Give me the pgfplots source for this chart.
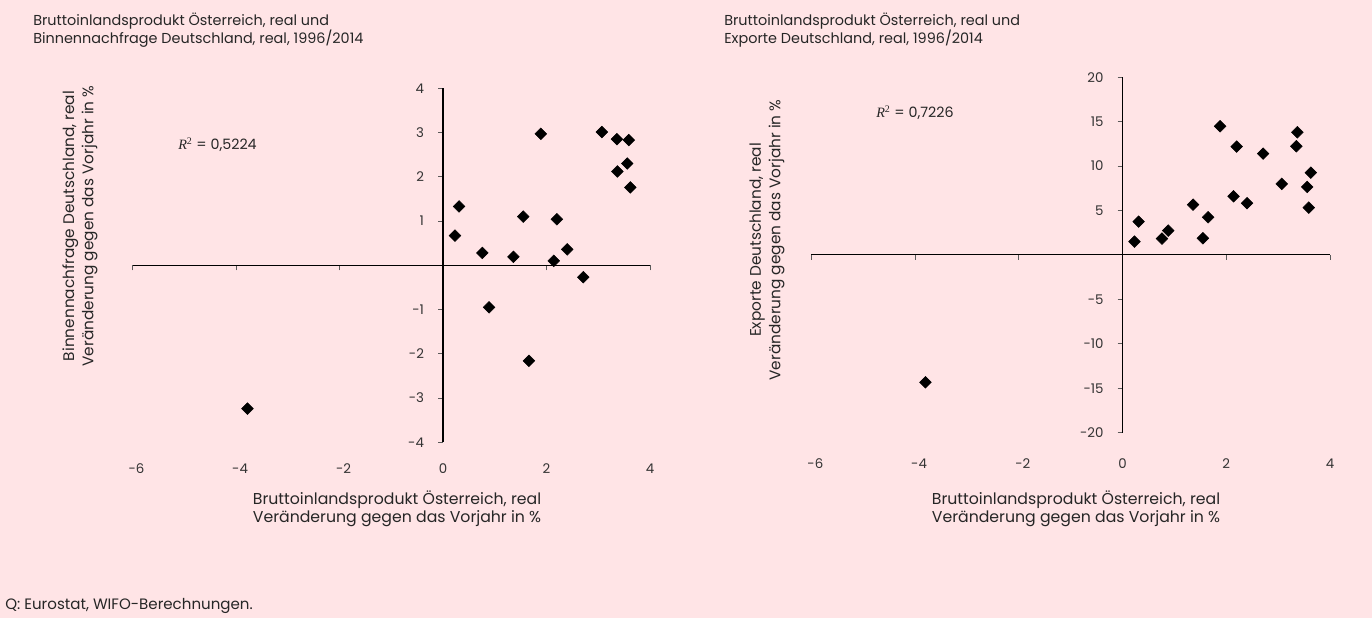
\documentclass[border=0pt]{standalone}
\usepackage{pgfplots}
\pgfplotsset{compat=1.18}
\usepackage{fontspec}
\setmainfont{Poppins}
\newfontfamily\rfont{Liberation Serif}
\definecolor{bg}{RGB}{255,228,230}
\definecolor{tickgray}{RGB}{90,90,90}

\pgfplotstableread{
x y
0.23 0.67
0.31 1.33
0.76 0.28
1.36 0.19
1.55 1.10
1.89 2.97
2.14 0.10
2.20 1.04
2.40 0.36
2.71 -0.27
3.07 3.01
3.36 2.85
3.59 2.83
3.37 2.12
3.56 2.30
3.62 1.76
0.89 -0.95
1.66 -2.16
-3.78 -3.24
}\leftdata

\pgfplotstableread{
x y
0.23 1.50
0.31 3.75
0.76 1.84
0.88 2.74
1.36 5.66
1.55 1.88
1.65 4.24
1.88 14.48
2.14 6.60
2.20 12.19
2.40 5.82
2.71 11.40
3.07 7.99
3.37 13.80
3.35 12.23
3.63 9.26
3.56 7.65
3.59 5.32
-3.80 -14.33
}\rightdata

\tikzset{xl/.style={font=\fontsize{10}{12}\selectfont, text=black!80}}
\pgfplotsset{
  myaxis/.style={
    scale only axis,
    anchor=south west,
    axis lines=middle,
    every inner x axis line/.append style={-},
    every inner y axis line/.append style={-},
    axis line style={black, line width=0.8pt},
    tick align=outside,
    major tick length=3.75pt,
    every tick/.style={tickgray, line width=0.6pt},
    xticklabels={},
    tick label style={font=\fontsize{10}{12}\selectfont, text=black!80},
    yticklabel style={anchor=east, xshift=-7pt},
    clip=false,
  },
}

\begin{document}
\begin{tikzpicture}
\path[use as bounding box, fill=bg] (0,0) rectangle (1029pt,463.5pt);

% left axis
\begin{axis}[myaxis,
  at={(99.4pt,131.8pt)}, width=388.1pt, height=265.5pt,
  xmin=-6, xmax=4, ymin=-4, ymax=4,
  xtick={-6,-4,-2,0,2,4},
  ytick={-4,-3,-2,-1,0,1,2,3,4},
  yticklabels={-4,-3,-2,-1,0,1,2,3,4},
]
\addplot[only marks, mark=square*, mark size=3.1pt, mark options={rotate=45, fill=black, draw=black}] table[x=x,y=y] {\leftdata};
\node[xl, xshift=3pt] at (axis cs:-6,-4.6) {-6};
\node[xl, xshift=3pt] at (axis cs:-4,-4.6) {-4};
\node[xl, xshift=3pt] at (axis cs:-2,-4.6) {-2};
\node[xl] at (axis cs:0,-4.6) {0};
\node[xl] at (axis cs:2,-4.6) {2};
\node[xl] at (axis cs:4,-4.6) {4};
\end{axis}

% right axis
\begin{axis}[myaxis,
  at={(608.5pt,139pt)}, width=389pt, height=266.6pt,
  xmin=-6, xmax=4, ymin=-20, ymax=20,
  xtick={-6,-4,-2,0,2,4},
  ytick={-20,-15,-10,-5,0,5,10,15,20},
  yticklabels={-20,-15,-10,-5,0,5,10,15,20},
]
\addplot[only marks, mark=square*, mark size=3.1pt, mark options={rotate=45, fill=black, draw=black}] table[x=x,y=y] {\rightdata};
\node[xl, xshift=3pt] at (axis cs:-6,-23.5) {-6};
\node[xl, xshift=3pt] at (axis cs:-4,-23.5) {-4};
\node[xl, xshift=3pt] at (axis cs:-2,-23.5) {-2};
\node[xl] at (axis cs:0,-23.5) {0};
\node[xl] at (axis cs:2,-23.5) {2};
\node[xl] at (axis cs:4,-23.5) {4};
\end{axis}

\begin{scope}[x=0.75pt, y=-0.75pt, shift={(0,463.5pt)}, every node/.style={text=black!85, inner sep=0pt}]
\node[anchor=north west, align=left, font=\fontsize{10.8}{13.5}\selectfont] at (33,13) {Bruttoinlandsprodukt Österreich, real und\\Binnennachfrage Deutschland, real, 1996/2014};
\node[anchor=north west, align=left, font=\fontsize{10.8}{13.5}\selectfont] at (724,13) {Bruttoinlandsprodukt Österreich, real und\\Exporte Deutschland, real, 1996/2014};
\node[anchor=west, font=\fontsize{10.7}{12}\selectfont] at (178,145) {{\rfont\itshape R}\textsuperscript{\rfont 2} = 0,5224};
\node[anchor=west, font=\fontsize{10.7}{12}\selectfont] at (876,113) {{\rfont\itshape R}\textsuperscript{\rfont 2} = 0,7226};
\node[rotate=90, align=center, font=\fontsize{11.5}{14.5}\selectfont] at (80,226) {Binnennachfrage Deutschland, real\\Veränderung gegen das Vorjahr in \%};
\node[rotate=90, align=center, font=\fontsize{11.5}{14.5}\selectfont] at (767,240) {Exporte Deutschland, real\\Veränderung gegen das Vorjahr in \%};
\node[align=center, font=\fontsize{11.8}{13.8}\selectfont] at (397,509) {Bruttoinlandsprodukt Österreich, real\\Veränderung gegen das Vorjahr in \%};
\node[align=center, font=\fontsize{11.8}{13.8}\selectfont] at (1076,509) {Bruttoinlandsprodukt Österreich, real\\Veränderung gegen das Vorjahr in \%};
\node[anchor=west, font=\fontsize{11.3}{13}\selectfont] at (5,606) {Q: Eurostat, WIFO-Berechnungen.};
\end{scope}
\end{tikzpicture}
\end{document}
